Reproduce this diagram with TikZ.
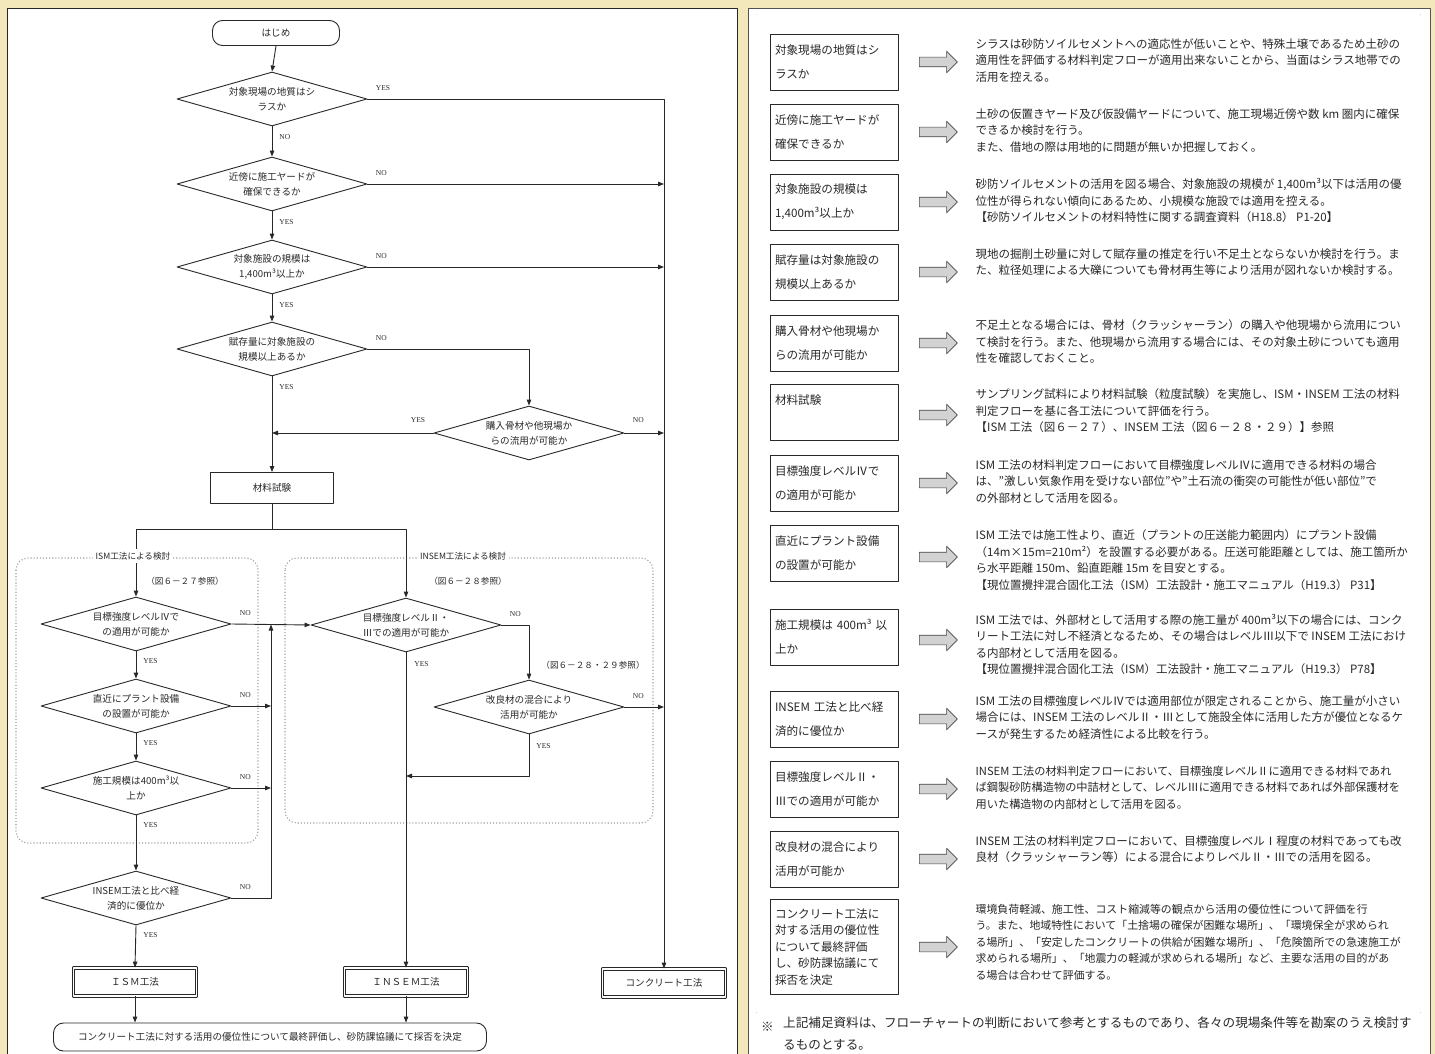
\documentclass[tikz,border=0pt]{standalone}
\usepackage{fontspec}
\setmainfont{Noto Sans CJK JP}
\newfontfamily\yesnofont{Liberation Serif}
\usetikzlibrary{shapes.geometric,shapes.arrows,arrows.meta,positioning}
\definecolor{paper}{RGB}{243,232,188}
\definecolor{ink}{RGB}{40,40,40}

\begin{document}
\begin{tikzpicture}[
  x=1pt, y=-1pt,
  line join=round,
  flow line/.style={
    draw=ink,
    line width=0.9pt
  },
  flow arrow/.style={
    flow line,
    -{Triangle[length=6pt,width=4.5pt]}
  },
  decision/.style={
    shape=diamond,
    draw=ink,
    fill=white,
    line width=0.9pt,
    aspect=3.5,
    inner sep=0pt,
    minimum width=190pt,
    minimum height=54pt,
    align=center,
    text=ink,
    font=\fontsize{9.6}{15}\selectfont
  },
  terminal/.style={
    draw=ink,
    line width=0.9pt,
    rounded corners=10pt,
    text=ink,
    font=\fontsize{9.6}{12}\selectfont
  },
  process/.style={
    draw=ink,
    line width=0.9pt,
    minimum width=123pt,
    minimum height=31pt,
    text=ink,
    font=\fontsize{9.6}{12}\selectfont
  },
  method/.style={
    draw=ink,
    line width=0.8pt,
    double,
    double distance=1.6pt,
    minimum width=123pt,
    minimum height=28pt,
    text=ink,
    font=\fontsize{9.6}{12}\selectfont
  },
  yes no/.style={
    inner sep=0pt,
    text=ink,
    font=\yesnofont\fontsize{7.5}{8}\selectfont
  },
  group frame/.style={
    draw=gray!75,
    dotted,
    line width=1.1pt,
    rounded corners=12pt
  },
  group title/.style={
    fill=white,
    inner sep=3pt,
    text=ink,
    font=\fontsize{8.6}{10}\selectfont
  },
  ref note/.style={
    inner sep=0pt,
    text=ink,
    font=\fontsize{8.6}{10}\selectfont
  },
  check box/.style={
    draw=ink,
    line width=0.9pt,
    minimum width=128pt,
    minimum height=56pt,
    text width=118pt,
    inner sep=0pt,
    align=left,
    text=ink,
    font=\fontsize{11.6}{24}\selectfont
  },
  block arrow/.style={
    single arrow,
    draw=gray!55!black,
    fill=gray!35,
    line width=0.6pt,
    inner sep=4.5pt,
    minimum height=38pt,
    single arrow head extend=6pt
  },
  explain/.style={
    inner sep=0pt,
    align=left,
    text=ink,
    font=\fontsize{11.5}{16.5}\selectfont
  },
]
% paper and panels
\fill[paper] (0,0) rectangle (1435,1054);
\useasboundingbox (0,0) rectangle (1435,1054);
\filldraw[fill=white, draw=ink, line width=0.8pt] (7,8) rectangle (737,1064);
\filldraw[fill=white, draw=ink!80, line width=0.8pt] (748,8) rectangle (1430,1064);
\draw[draw=ink!85, line width=0.7pt, double, double distance=1.3pt] (757,15) rectangle (1420,1012);

% dotted groups
\draw[group frame] (16,558) rectangle (258,843);
\draw[group frame] (285,558) rectangle (653,823);

% flow chart
\node[terminal, minimum width=127pt, minimum height=25pt] (start) at (276,33) {はじめ};
\node[decision] (d1) at (272,99) {対象現場の地質はシ\\ラスか};
\node[decision] (d2) at (272,184) {近傍に施工ヤードが\\確保できるか};
\node[decision] (d3) at (272,267) {対象施設の規模は\\1,400m³以上か};
\node[decision] (d4) at (272,349) {賦存量に対象施設の\\規模以上あるか};
\node[decision] (d5) at (529,433) {購入骨材や他現場か\\らの流用が可能か};
\node[process] (shiken) at (272,488) {材料試験};

\node[decision] (ism1) at (136,624) {目標強度レベルⅣで\\の適用が可能か};
\node[decision] (ism2) at (136,706) {直近にプラント設備\\の設置が可能か};
\node[decision] (ism3) at (136,788) {施工規模は400m³以\\上か};
\node[decision] (ism4) at (136,898) {INSEM工法と比べ経\\済的に優位か};
\node[decision] (ins1) at (406,625) {目標強度レベルⅡ・\\Ⅲでの適用が可能か};
\node[decision] (ins2) at (529,707) {改良材の混合により\\活用が可能か};

\node[method] (ism) at (135,982) {ＩＳＭ工法};
\node[method] (insem) at (406,982) {ＩＮＳＥＭ工法};
\node[method] (conc) at (664,983) {コンクリート工法};
\node[terminal, minimum width=433pt, minimum height=28pt] (fin) at (270,1037)
  {コンクリート工法に対する活用の優位性について最終評価し、砂防課協議にて採否を決定};

\node[ref note] (ref1) at (185,581) {（図６－２７参照）};
\node[ref note] (ref2) at (468,581) {（図６－２８参照）};
\node[ref note] (ref3) at (593,665) {（図６－２８・２９参照）};

\coordinate (merge) at (406,776);
\path (ism1.east) -- (ins1.west) coordinate[pos=0.5] (bypass);

\draw[flow arrow] (start.south) -- (d1.north);
\draw[flow arrow] (d1.south) -- node[yes no, at start, below right=8pt and 7pt] {NO} (d2.north);
\draw[flow arrow] (d2.south) -- node[yes no, at start, below right=8pt and 7pt] {YES} (d3.north);
\draw[flow arrow] (d3.south) -- node[yes no, at start, below right=8pt and 7pt] {YES} (d4.north);
\draw[flow arrow] (d4.south) -- node[yes no, at start, below right=8pt and 7pt] {YES} (shiken.north);
\draw[flow arrow] (d1.east) -| node[yes no, at start, above right=8pt and 8pt] {YES} (conc.north);
\draw[flow arrow] (d2.east) -- node[yes no, at start, above right=8pt and 8pt] {NO} (d2.east -| conc.north);
\draw[flow arrow] (d3.east) -- node[yes no, at start, above right=8pt and 8pt] {NO} (d3.east -| conc.north);
\draw[flow arrow] (d4.east) -| node[yes no, at start, above right=8pt and 8pt] {NO} (d5.north);
\draw[flow arrow] (d5.west) -- node[yes no, at start, above left=10pt and 8pt] {YES} (d5.west -| d4.south);
\draw[flow arrow] (d5.east) -- node[yes no, at start, above right=10pt and 8pt] {NO} (d5.east -| conc.north);

\draw[flow line] (shiken.south) -- ++(0,25) coordinate (split);
\draw[flow arrow] (split) -| (ism1.north);
\draw[flow arrow] (split) -| (ins1.north);

\draw[flow arrow] (ism1.south) -- node[yes no, at start, below right=7pt and 7pt] {YES} (ism2.north);
\draw[flow arrow] (ism2.south) -- node[yes no, at start, below right=7pt and 7pt] {YES} (ism3.north);
\draw[flow arrow] (ism3.south) -- node[yes no, at start, below right=7pt and 7pt] {YES} (ism4.north);
\draw[flow arrow] (ism4.south) -- node[yes no, at start, below right=7pt and 7pt] {YES} (ism.north);
\draw[flow arrow] (ism1.east) -- node[yes no, at start, above right=8pt and 8pt] {NO} (ins1.west);
\draw[flow arrow] (ism2.east) -- node[yes no, at start, above right=8pt and 8pt] {NO} (ism2.east -| bypass);
\draw[flow arrow] (ism3.east) -- node[yes no, at start, above right=8pt and 8pt] {NO} (ism3.east -| bypass);
\draw[flow arrow] (ism4.east) -| node[yes no, at start, above right=8pt and 8pt] {NO} (bypass);

\draw[flow arrow] (ins1.south) -- node[yes no, at start, below right=9pt and 8pt] {YES} (insem.north);
\draw[flow arrow] (ins1.east) -| node[yes no, at start, above right=8pt and 8pt] {NO} (ins2.north);
\draw[flow arrow] (ins2.east) -- node[yes no, at start, above right=8pt and 8pt] {NO} (ins2.east -| conc.north);
\draw[flow arrow] (ins2.south) |- node[yes no, at start, below right=9pt and 7pt] {YES} (merge);

\draw[flow arrow] (ism.south) -- (ism.south |- fin.north);
\draw[flow arrow] (insem.south) -- (insem.south |- fin.north);

\node[group title] (ismtitle) at (133,556) {ISM工法による検討};
\node[group title] (institle) at (463,556) {INSEM工法による検討};

% supplement
\node[check box] (q1) at (834,62) {対象現場の地質はシ\\ラスか};
\node[block arrow] (a1) at (936,62) {};
\node[explain, below right=5pt and 77pt of q1.north east] (e1) {シラスは砂防ソイルセメントへの適応性が低いことや、特殊土壌であるため土砂の\\適用性を評価する材料判定フローが適用出来ないことから、当面はシラス地帯での\\活用を控える。};

\node[check box] (q2) at (834,132) {近傍に施工ヤードが\\確保できるか};
\node[block arrow] (a2) at (936,132) {};
\node[explain, below right=5pt and 77pt of q2.north east] (e2) {土砂の仮置きヤード及び仮設備ヤードについて、施工現場近傍や数 km 圏内に確保\\できるか検討を行う。\\また、借地の際は用地的に問題が無いか把握しておく。};

\node[check box] (q3) at (834,202) {対象施設の規模は\\1,400m³以上か};
\node[block arrow] (a3) at (936,202) {};
\node[explain, below right=5pt and 77pt of q3.north east] (e3) {砂防ソイルセメントの活用を図る場合、対象施設の規模が 1,400m³以下は活用の優\\位性が得られない傾向にあるため、小規模な施設では適用を控える。\\【砂防ソイルセメントの材料特性に関する調査資料（H18.8）\ P1-20】};

\node[check box] (q4) at (834,272) {賦存量は対象施設の\\規模以上あるか};
\node[block arrow] (a4) at (936,272) {};
\node[explain, below right=5pt and 77pt of q4.north east] (e4) {現地の掘削土砂量に対して賦存量の推定を行い不足土とならないか検討を行う。ま\\た、粒径処理による大礫についても骨材再生等により活用が図れないか検討する。};

\node[check box] (q5) at (834,343) {購入骨材や他現場か\\らの流用が可能か};
\node[block arrow] (a5) at (936,343) {};
\node[explain, below right=5pt and 77pt of q5.north east] (e5) {不足土となる場合には、骨材（クラッシャーラン）の購入や他現場から流用につい\\て検討を行う。また、他現場から流用する場合には、その対象土砂についても適用\\性を確認しておくこと。};

\node[check box] (q6) at (834,412) {材料試験\\\mbox{}};
\node[block arrow] (a6) at (936,415) {};
\node[explain, below right=5pt and 77pt of q6.north east] (e6) {サンプリング試料により材料試験（粒度試験）を実施し、ISM・INSEM 工法の材料\\判定フローを基に各工法について評価を行う。\\【ISM 工法（図６－２７）、INSEM 工法（図６－２８・２９）】参照};

\node[check box] (q7) at (834,483) {目標強度レベルⅣで\\の適用が可能か};
\node[block arrow] (a7) at (936,483) {};
\node[explain, below right=5pt and 77pt of q7.north east] (e7) {ISM 工法の材料判定フローにおいて目標強度レベルⅣに適用できる材料の場合\\は、”激しい気象作用を受けない部位”や”土石流の衝突の可能性が低い部位”で\\の外部材として活用を図る。};

\node[check box] (q8) at (834,553) {直近にプラント設備\\の設置が可能か};
\node[block arrow] (a8) at (936,557) {};
\node[explain, below right=5pt and 77pt of q8.north east] (e8) {ISM 工法では施工性より、直近（プラントの圧送能力範囲内）にプラント設備\\（14m×15m=210m²）を設置する必要がある。圧送可能距離としては、施工箇所か\\ら水平距離 150m、鉛直距離 15m を目安とする。\\【現位置攪拌混合固化工法（ISM）工法設計・施工マニュアル（H19.3）\ P31】};

\node[check box] (q9) at (834,637) {施工規模は 400m³ 以\\上か};
\node[block arrow] (a9) at (936,640) {};
\node[explain, below right=5pt and 77pt of q9.north east] (e9) {ISM 工法では、外部材として活用する際の施工量が 400m³以下の場合には、コンク\\リート工法に対し不経済となるため、その場合はレベルⅢ以下で INSEM 工法におけ\\る内部材として活用を図る。\\【現位置攪拌混合固化工法（ISM）工法設計・施工マニュアル（H19.3）\ P78】};

\node[check box] (q10) at (834,719) {INSEM 工法と比べ経\\済的に優位か};
\node[block arrow] (a10) at (936,719) {};
\node[explain, below right=5pt and 77pt of q10.north east] (e10) {ISM 工法の目標強度レベルⅣでは適用部位が限定されることから、施工量が小さい\\場合には、INSEM 工法のレベルⅡ・Ⅲとして施設全体に活用した方が優位となるケ\\ースが発生するため経済性による比較を行う。};

\node[check box] (q11) at (834,789) {目標強度レベルⅡ・\\Ⅲでの適用が可能か};
\node[block arrow] (a11) at (936,789) {};
\node[explain, below right=5pt and 77pt of q11.north east, font=\fontsize{11.2}{16.5}\selectfont] (e11) {INSEM 工法の材料判定フローにおいて、目標強度レベルⅡに適用できる材料であれ\\ば鋼製砂防構造物の中詰材として、レベルⅢに適用できる材料であれば外部保護材を\\用いた構造物の内部材として活用を図る。};

\node[check box] (q12) at (834,859) {改良材の混合により\\活用が可能か};
\node[block arrow] (a12) at (936,859) {};
\node[explain, below right=5pt and 77pt of q12.north east] (e12) {INSEM 工法の材料判定フローにおいて、目標強度レベルⅠ程度の材料であっても改\\良材（クラッシャーラン等）による混合によりレベルⅡ・Ⅲでの活用を図る。};

\node[check box, minimum height=95pt, font=\fontsize{11.6}{16.5}\selectfont] (q13) at (834,947) {コンクリート工法に\\対する活用の優位性\\について最終評価\\し、砂防課協議にて\\採否を決定};
\node[block arrow] (a13) at (936,947) {};
\node[explain, below right=5pt and 77pt of q13.north east, font=\fontsize{10.9}{16.5}\selectfont] (e13) {環境負荷軽減、施工性、コスト縮減等の観点から活用の優位性について評価を行\\う。また、地域特性において「土捨場の確保が困難な場所」、「環境保全が求められ\\る場所」、「安定したコンクリートの供給が困難な場所」、「危険箇所での急速施工が\\求められる場所」、「地震力の軽減が求められる場所」など、主要な活用の目的があ\\る場合は合わせて評価する。};

% footnote
\node[anchor=west, inner sep=0pt, text=ink, font=\fontsize{12.6}{22}\selectfont] (kome) at (761,1027) {※};
\node[anchor=north west, inner sep=0pt, align=left, text=ink, font=\fontsize{12.6}{22}\selectfont] (note) at (783,1017) {上記補足資料は、フローチャートの判断において参考とするものであり、各々の現場条件等を勘案のうえ検討す\\るものとする。};
\end{tikzpicture}
\end{document}
